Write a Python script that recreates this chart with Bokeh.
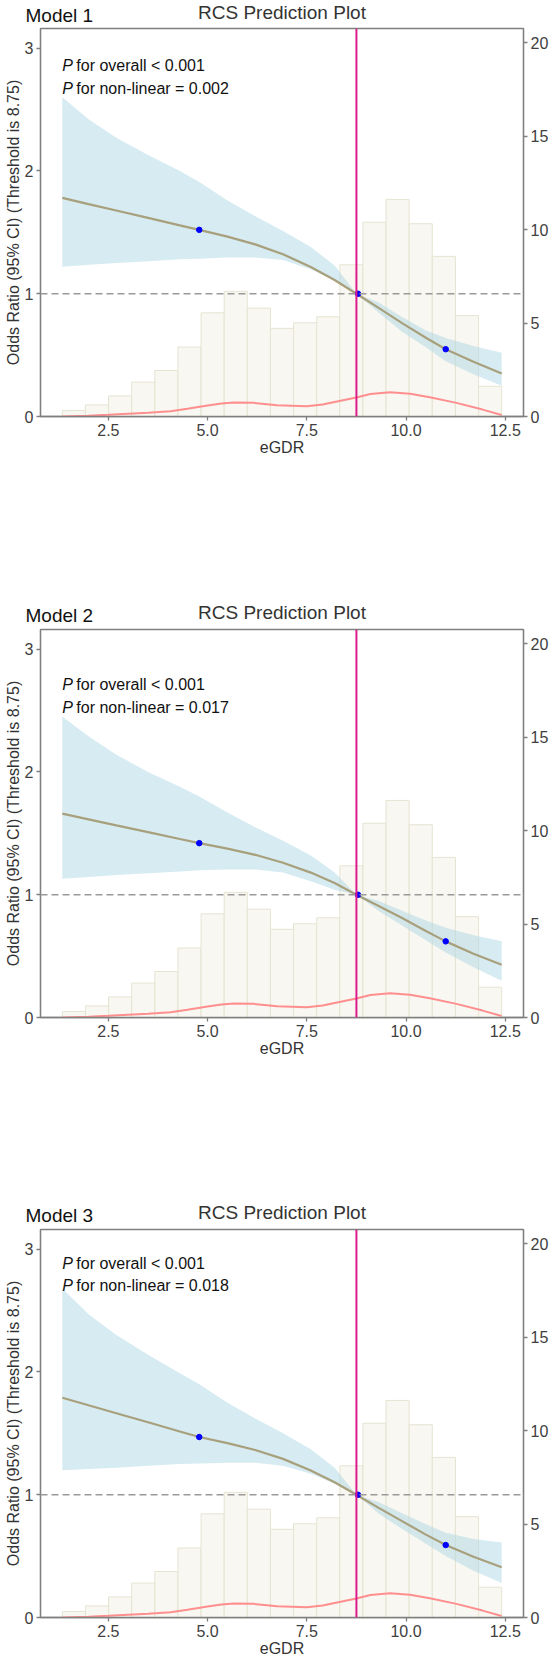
import numpy as np
from bokeh.plotting import figure
from bokeh.models import Range1d, LinearAxis, FixedTicker, PrintfTickFormatter, Span, Label
from bokeh.core.properties import value
from bokeh.layouts import column
from bokeh.embed import file_html
from bokeh.resources import INLINE

# eGDR grid at which the spline estimates are listed
egdr = [1.34, 2.0, 2.7, 3.5, 4.3, 4.79, 5.5, 6.2, 6.9, 7.6, 8.2, 8.75,
        9.3, 9.9, 10.5, 11.0, 11.7, 12.41]

# Model 1: odds ratio with 95% CI
m1_or = [1.78, 1.73, 1.678, 1.618, 1.557, 1.52, 1.465, 1.402, 1.322, 1.217, 1.112, 1.0,
         0.887, 0.761, 0.641, 0.548, 0.446, 0.35]
m1_hi = [2.60, 2.42, 2.27, 2.13, 2.00, 1.91, 1.76, 1.63, 1.51, 1.38, 1.23, 1.0,
         0.93, 0.81, 0.70, 0.64, 0.575, 0.52]
m1_lo = [1.22, 1.235, 1.25, 1.265, 1.28, 1.285, 1.295, 1.295, 1.275, 1.20, 1.11, 1.0,
         0.85, 0.69, 0.565, 0.45, 0.345, 0.25]

# Model 2
m2_or = [1.66, 1.614, 1.565, 1.51, 1.454, 1.42, 1.375, 1.325, 1.26, 1.18, 1.095, 1.0,
         0.91, 0.81, 0.705, 0.62, 0.52, 0.43]
m2_hi = [2.45, 2.29, 2.14, 2.00, 1.88, 1.80, 1.67, 1.55, 1.44, 1.32, 1.18, 1.0,
         0.95, 0.87, 0.79, 0.73, 0.67, 0.62]
m2_lo = [1.13, 1.145, 1.16, 1.175, 1.19, 1.20, 1.205, 1.205, 1.18, 1.11, 1.04, 1.0,
         0.87, 0.75, 0.63, 0.53, 0.41, 0.30]

# Model 3
m3_or = [1.79, 1.729, 1.664, 1.59, 1.515, 1.47, 1.42, 1.364, 1.292, 1.197, 1.102, 1.0,
         0.895, 0.785, 0.675, 0.59, 0.495, 0.41]
m3_hi = [2.68, 2.47, 2.30, 2.14, 1.99, 1.90, 1.75, 1.62, 1.50, 1.37, 1.22, 1.0,
         0.94, 0.85, 0.76, 0.69, 0.64, 0.61]
m3_lo = [1.20, 1.21, 1.22, 1.235, 1.25, 1.255, 1.26, 1.26, 1.235, 1.17, 1.09, 1.0,
         0.85, 0.72, 0.60, 0.50, 0.38, 0.28]

# highlighted points on each curve
point_x = [4.79, 8.79, 11.0]
m1_pts = [1.52, 1.0, 0.548]
m2_pts = [1.42, 1.0, 0.62]
m3_pts = [1.47, 1.0, 0.59]

model_names = ["Model 1", "Model 2", "Model 3"]
p_overall = ["< 0.001", "< 0.001", "< 0.001"]
p_nonlinear = ["= 0.002", "= 0.017", "= 0.018"]

threshold = 8.75

# eGDR distribution (percent per bin) and its density curve (same scale)
hist_min, hist_max = 1.34, 12.41
hist_pct = [0.32, 0.62, 1.10, 1.84, 2.46, 3.72, 5.55, 6.70, 5.80, 4.72,
            5.02, 5.34, 8.12, 10.40, 11.62, 10.32, 8.57, 5.40, 1.62]
dens_x = [1.34, 2.0, 2.5, 3.0, 3.5, 4.07, 4.49, 5.0, 5.35, 5.66, 6.16, 6.75,
          7.5, 7.9, 8.26, 8.75, 9.1, 9.6, 10.1, 10.6, 11.27, 11.93, 12.41]
dens_y = [0.0, 0.04, 0.09, 0.15, 0.20, 0.28, 0.41, 0.59, 0.70, 0.75, 0.73, 0.60,
          0.55, 0.64, 0.80, 1.02, 1.20, 1.30, 1.22, 1.03, 0.73, 0.37, 0.08]

x_ticks = [2.5, 5.0, 7.5, 10.0, 12.5]
or_ticks = [0, 1, 2, 3]
pct_ticks = [0, 5, 10, 15, 20]

FONT = "Liberation Sans"
AXIS_GREY = "#7F7F7F"
TEXT_GREY = "#404040"
W = 553


def style_axis(ax):
    ax.axis_line_color = AXIS_GREY
    ax.axis_line_width = 1.3
    ax.major_tick_line_color = AXIS_GREY
    ax.major_tick_line_width = 1.3
    ax.major_tick_out = 4
    ax.major_tick_in = 0
    ax.minor_tick_line_color = None
    ax.major_label_text_font = FONT
    ax.major_label_text_font_size = "16px"
    ax.major_label_text_color = TEXT_GREY
    ax.major_label_standoff = 3
    ax.axis_label_text_font = FONT
    ax.axis_label_text_font_size = "16px"
    ax.axis_label_text_font_style = "normal"
    ax.axis_label_text_color = "#333333"
    ax.axis_label_standoff = 0


def make_heading(name, height):
    # strip above each panel holding the model name and the plot title
    h = figure(width=W, height=height, output_backend="svg", toolbar_location=None,
               x_range=Range1d(0, W), y_range=Range1d(height, 0),
               x_axis_location=None, y_axis_location=None, frame_align=False,
               min_border=0, min_border_left=0, min_border_right=0,
               min_border_top=0, min_border_bottom=0)
    h.grid.visible = False
    h.outline_line_color = None
    h.text(x=[25], y=[15.0], text=[name], text_font=value(FONT),
           text_font_size=value("19px"), text_color="#111111",
           text_baseline="middle", text_align="left")
    h.text(x=[281.5], y=[12.4], text=["RCS Prediction Plot"], text_font=value(FONT),
           text_font_size=value("19px"), text_color="#333333",
           text_baseline="middle", text_align="center")
    return h


def make_panel(or_vals, lo_vals, hi_vals, pts, po, pnl, text_y, height, bottom):
    p = figure(width=W, height=height, output_backend="svg", toolbar_location=None,
               x_range=Range1d(0.79, 12.96), y_range=Range1d(0, 3.16),
               min_border_left=40, min_border_right=30,
               min_border_top=1, min_border_bottom=bottom)
    p.grid.visible = False
    p.outline_line_color = AXIS_GREY
    p.outline_line_width = 1.3
    p.background_fill_color = "white"
    p.extra_y_ranges = {"pct": Range1d(0, 20.77)}

    # distribution of eGDR
    edges = np.linspace(hist_min, hist_max, len(hist_pct) + 1)
    p.quad(left=edges[:-1], right=edges[1:], bottom=0, top=hist_pct, y_range_name="pct",
           fill_color="#F8F7F1", line_color="#E6E4D2", line_width=1)

    # confidence band
    p.varea(x=egdr, y1=lo_vals, y2=hi_vals, fill_color="#ADD8E6", fill_alpha=0.5)

    # density curve
    p.line(dens_x, dens_y, y_range_name="pct", line_color="#FF8F8F", line_width=2)

    # reference line at OR = 1
    p.add_layout(Span(location=1, dimension="width", line_color="#9A9A9A",
                      line_width=1.5, line_dash="7 4"))

    # spline estimate
    p.line(egdr, or_vals, line_color="#A8A07C", line_width=2.2)

    # threshold
    p.add_layout(Span(location=threshold, dimension="height", line_color="#DD1C8B",
                      line_width=2))

    p.scatter(point_x, pts, size=5.5, color="#0000FF")

    # axes
    p.xaxis.ticker = FixedTicker(ticks=x_ticks)
    p.xaxis.formatter = PrintfTickFormatter(format="%.1f")
    p.xaxis.axis_label = "eGDR"
    p.yaxis.ticker = FixedTicker(ticks=or_ticks)
    p.yaxis.axis_label = "Odds Ratio (95% CI) (Threshold is 8.75)"
    right = LinearAxis(y_range_name="pct", ticker=FixedTicker(ticks=pct_ticks))
    p.add_layout(right, "right")
    for ax in [p.xaxis[0], p.yaxis[0], right]:
        style_axis(ax)

    # p-values
    for ty, rest in zip(text_y, ["for overall " + po, "for non-linear " + pnl]):
        p.add_layout(Label(x=hist_min, y=ty, text="P", text_font=FONT, text_font_size="16px",
                           text_font_style="italic", text_color="#111111",
                           text_baseline="alphabetic"))
        p.add_layout(Label(x=hist_min, x_offset=14, y=ty, text=rest, text_font=FONT,
                           text_font_size="16px", text_color="#111111",
                           text_baseline="alphabetic"))
    return p


h1 = make_heading(model_names[0], 27)
p1 = make_panel(m1_or, m1_lo, m1_hi, m1_pts, p_overall[0], p_nonlinear[0],
                [2.855, 2.67], 573, 184)
h2 = make_heading(model_names[1], 28)
p2 = make_panel(m2_or, m2_lo, m2_hi, m2_pts, p_overall[1], p_nonlinear[1],
                [2.71, 2.525], 572, 183)
h3 = make_heading(model_names[2], 28)
p3 = make_panel(m3_or, m3_lo, m3_hi, m3_pts, p_overall[2], p_nonlinear[2],
                [2.88, 2.70], 431, 42)

layout = column(h1, p1, h2, p2, h3, p3, spacing=0)
open("out.html", "w").write(file_html(layout, INLINE))
